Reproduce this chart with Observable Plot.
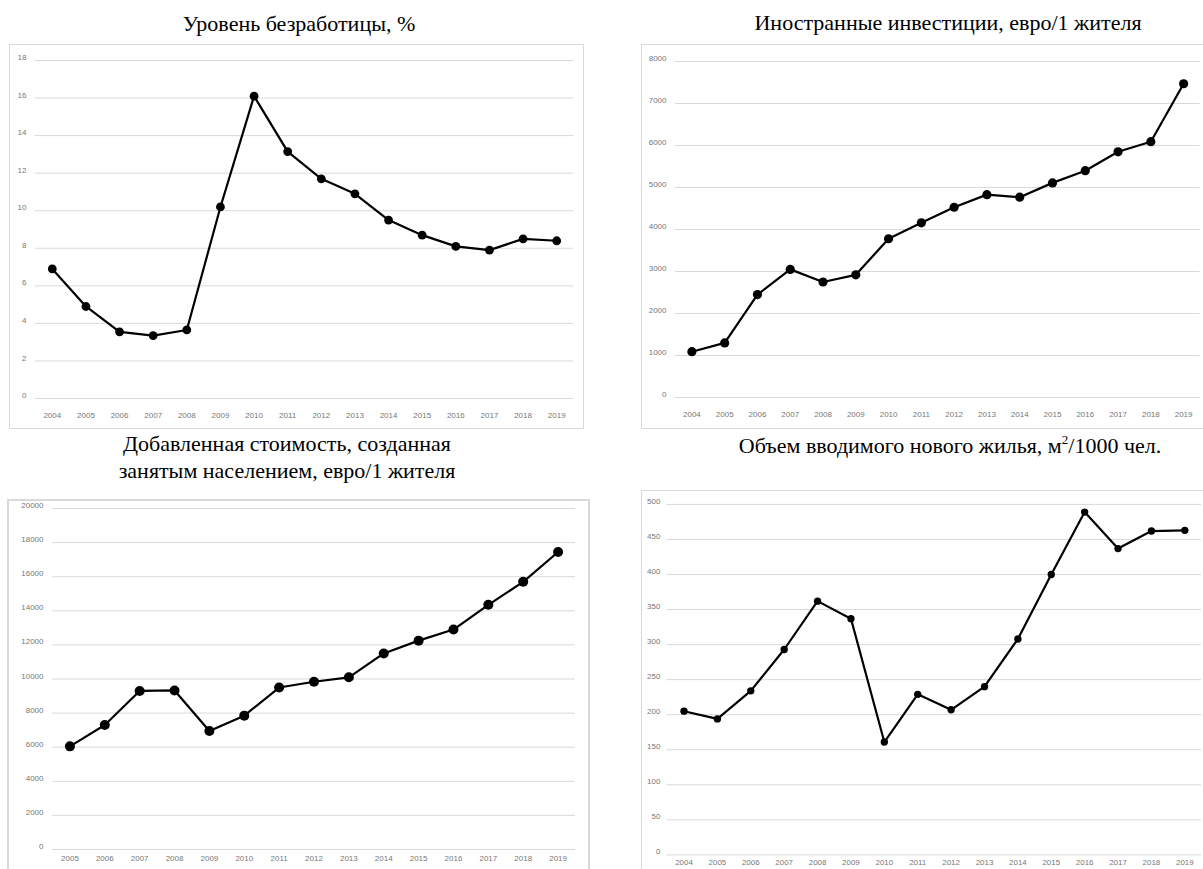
<!DOCTYPE html>
<html><head><meta charset="utf-8">
<script src="https://cdn.jsdelivr.net/npm/d3@7"></script>
<script src="https://cdn.jsdelivr.net/npm/@observablehq/plot@0.6"></script>
<style>
html,body{margin:0;padding:0;background:#fff;overflow:hidden;width:1203px;height:869px;}
#root{position:relative;width:1203px;height:869px;overflow:hidden;background:#fff;}
.frame{position:absolute;border:1px solid #d9d9d9;box-sizing:border-box;}
.title{position:absolute;font-family:"Liberation Serif","DejaVu Serif","Times New Roman",serif;font-size:22px;color:#000;text-align:center;white-space:nowrap;transform:translateX(-50%);line-height:27px;}
.title sup{font-size:13px;line-height:0;vertical-align:9px;}
.chart{position:absolute;}
</style></head><body><div id="root"></div>
<script>
// ---- data ----
const yearsA = [2004,2005,2006,2007,2008,2009,2010,2011,2012,2013,2014,2015,2016,2017,2018,2019];
const yearsB = [2005,2006,2007,2008,2009,2010,2011,2012,2013,2014,2015,2016,2017,2018,2019];
const unemployment = [6.9,4.9,3.55,3.35,3.65,10.2,16.1,13.15,11.7,10.9,9.5,8.7,8.1,7.9,8.5,8.4];
const investment = [1090,1300,2450,3050,2750,2920,3780,4160,4530,4830,4770,5110,5400,5850,6090,7470];
const valueAdded = [6050,7300,9300,9330,6950,7850,9500,9840,10100,11500,12250,12900,14350,15700,17450];
const housing = [205,194,234,293,362,337,161,229,207,240,308,400,489,437,462,463];
const ticks1 = [0,2,4,6,8,10,12,14,16,18];
const ticks2 = [0,1000,2000,3000,4000,5000,6000,7000,8000];
const ticks3 = [0,2000,4000,6000,8000,10000,12000,14000,16000,18000,20000];
const ticks4 = [0,50,100,150,200,250,300,350,400,450,500];
const title1 = "Уровень безработицы, %";
const title2 = "Иностранные инвестиции, евро/1 жителя";
const title3a = "Добавленная стоимость, созданная";
const title3b = "занятым населением, евро/1 жителя";
const title4 = "Объем вводимого нового жилья, м<sup>2</sup>/1000 чел.";

const root = document.getElementById("root");
function addDiv(cls, css, html) {
  const d = document.createElement("div");
  d.className = cls;
  Object.assign(d.style, css);
  if (html != null) d.innerHTML = html;
  root.appendChild(d);
  return d;
}

function panel(o) {
  const data = o.years.map((y, i) => ({year: y, value: o.values[i]}));
  const tickColor = "#777777";
  const svg = Plot.plot({
    width: o.width, height: o.height,
    marginLeft: o.mL, marginRight: o.mR, marginTop: o.mT, marginBottom: o.mB,
    style: {fontFamily: "'Liberation Sans', Arial, sans-serif", fontSize: "8px", color: tickColor, background: "transparent", overflow: "visible"},
    x: {domain: [o.years[0] - 0.5, o.years[o.years.length - 1] + 0.5], label: null, axis: null},
    y: {domain: [o.ticks[0], o.ticks[o.ticks.length - 1]], label: null, axis: null},
    marks: [
      Plot.ruleY(o.ticks, {stroke: "#d9d9d9", strokeWidth: 1}),
      Plot.axisX(o.years, {tickSize: 0, tickPadding: o.xPad, tickFormat: d => String(d), fill: tickColor, label: null}),
      Plot.axisY(o.ticks, {tickSize: 0, tickPadding: o.yPad, dy: -3, tickFormat: d => String(d), fill: tickColor, label: null}),
      Plot.line(data, {x: "year", y: "value", stroke: "#000", strokeWidth: 2.2}),
      Plot.dot(data, {x: "year", y: "value", fill: "#000", stroke: "none", r: o.r})
    ]
  });
  const holder = addDiv("chart", {left: o.left + "px", top: o.top + "px"});
  holder.appendChild(svg);
}

// frames
addDiv("frame", {left: "9px", top: "44px", width: "575px", height: "385px"});
addDiv("frame", {left: "641px", top: "44px", width: "600px", height: "385px"});
addDiv("frame", {left: "7px", top: "499px", width: "583px", height: "400px", borderWidth: "2px"});
addDiv("frame", {left: "641px", top: "490px", width: "600px", height: "400px"});

// titles
addDiv("title", {left: "299px", top: "10px"}, title1);
addDiv("title", {left: "948px", top: "9px"}, title2);
addDiv("title", {left: "287px", top: "430px"}, title3a + "<br>" + title3b);
addDiv("title", {left: "950px", top: "432px"}, title4);

// charts
panel({years: yearsA, values: unemployment, ticks: ticks1, left: 9, top: 44, width: 574, height: 384,
  mL: 26, mR: 10, mT: 16, mB: 30, r: 4.4, xPad: 14, yPad: 9});
panel({years: yearsA, values: investment, ticks: ticks2, left: 641, top: 44, width: 562, height: 384,
  mL: 34, mR: 3.5, mT: 17, mB: 31, r: 4.6, xPad: 14, yPad: 9});
panel({years: yearsB, values: valueAdded, ticks: ticks3, left: 7, top: 499, width: 582, height: 370,
  mL: 45, mR: 14, mT: 9, mB: 20, r: 5, xPad: 6, yPad: 9});
panel({years: yearsA, values: housing, ticks: ticks4, left: 641, top: 490, width: 566, height: 379,
  mL: 26, mR: 2, mT: 14, mB: 12, r: 3.7, xPad: 4, yPad: 7});
</script>
</body></html>
